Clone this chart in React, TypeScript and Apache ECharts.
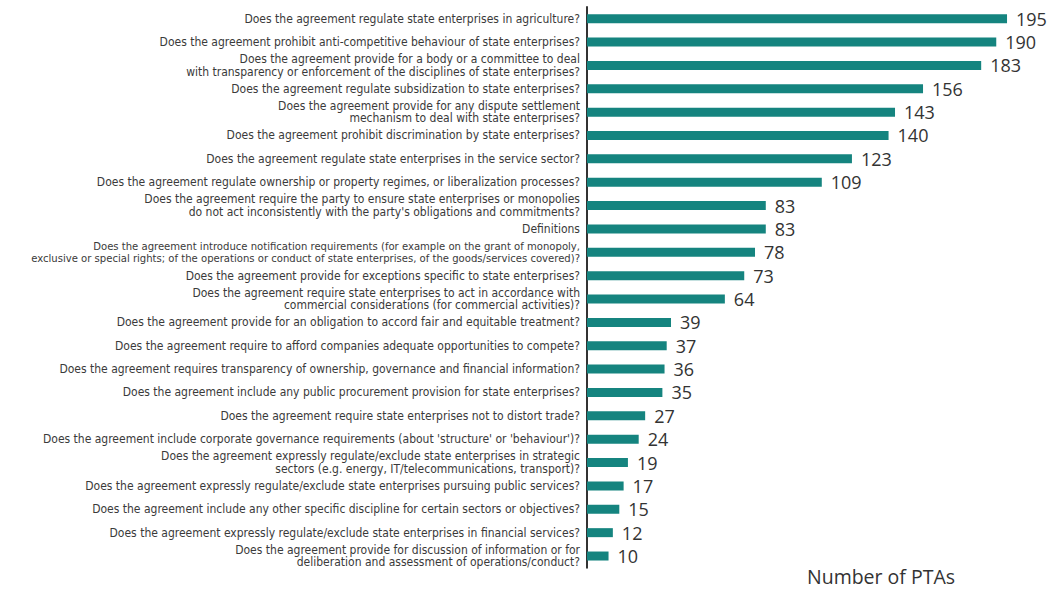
import React, { useEffect, useRef } from "react";
import * as echarts from "echarts";

const categories: string[] = [
  "Does the agreement regulate state enterprises in agriculture?",
  "Does the agreement prohibit anti-competitive behaviour of state enterprises?",
  "Does the agreement provide for a body or a committee to deal\nwith transparency or enforcement of the disciplines of state enterprises?",
  "Does the agreement regulate subsidization to state enterprises?",
  "Does the agreement provide for any dispute settlement\nmechanism to deal with state enterprises?",
  "Does the agreement prohibit discrimination by state enterprises?",
  "Does the agreement regulate state enterprises in the service sector?",
  "Does the agreement regulate ownership or property regimes, or liberalization processes?",
  "Does the agreement require the party to ensure state enterprises or monopolies\ndo not act inconsistently with the party's obligations and commitments?",
  "Definitions",
  "Does the agreement introduce notification requirements (for example on the grant of monopoly,\nexclusive or special rights; of the operations or conduct of state enterprises, of the goods/services covered)?",
  "Does the agreement provide for exceptions specific to state enterprises?",
  "Does the agreement require state enterprises to act in accordance with\ncommercial considerations (for commercial activities)?",
  "Does the agreement provide for an obligation to accord fair and equitable treatment?",
  "Does the agreement require to afford companies adequate opportunities to compete?",
  "Does the agreement requires transparency of ownership, governance and financial information?",
  "Does the agreement include any public procurement provision for state enterprises?",
  "Does the agreement require state enterprises not to distort trade?",
  "Does the agreement include corporate governance requirements (about 'structure' or 'behaviour')?",
  "Does the agreement expressly regulate/exclude state enterprises in strategic\nsectors (e.g. energy, IT/telecommunications, transport)?",
  "Does the agreement expressly regulate/exclude state enterprises pursuing public services?",
  "Does the agreement include any other specific discipline for certain sectors or objectives?",
  "Does the agreement expressly regulate/exclude state enterprises in financial services?",
  "Does the agreement provide for discussion of information or for\ndeliberation and assessment of operations/conduct?",
];

const values: number[] = [
  195, 190, 183, 156, 143, 140, 123, 109, 83, 83, 78, 73, 64, 39, 37, 36, 35, 27, 24, 19, 17, 15, 12, 10,
];

const axisTitle = "Number of PTAs";

export default function App() {
  const ref = useRef<HTMLDivElement>(null);
  useEffect(() => {
    if (!ref.current) return;
    const chart = echarts.init(ref.current, undefined, { renderer: "svg" });
    chart.setOption({
      animation: false,
      backgroundColor: "#ffffff",
      grid: {
        left: 587,
        right: 36.2,
        top: 7,
        bottom: 23.3,
        containLabel: false,
        outerBoundsMode: "none",
      },
      xAxis: {
        type: "value",
        min: 0,
        max: 200,
        show: false,
      },
      yAxis: {
        type: "category",
        data: categories,
        inverse: true,
        axisLine: { show: true, lineStyle: { color: "#333333", width: 2 } },
        axisTick: { show: false },
        axisLabel: {
          margin: 7,
          fontFamily: "DejaVu Sans Condensed",
          fontSize: 12,
          lineHeight: 12.5,
          color: "#3a3a3a",
          align: "right",
          formatter: (v: string) => {
            const lines = v.split("\n");
            const longest = Math.max(...lines.map((l) => l.length));
            if (longest > 100) {
              return lines.map((l) => `{s|${l}}`).join("\n");
            }
            return v;
          },
          rich: {
            s: {
              fontFamily: "DejaVu Sans Condensed",
              fontSize: 11.2,
              lineHeight: 12.5,
              color: "#3a3a3a",
            },
          },
        },
      },
      series: [
        {
          type: "bar",
          data: values,
          barWidth: 9,
          itemStyle: { color: "#15847f" },
          label: {
            show: true,
            position: "right",
            distance: 9,
            fontFamily: "Open Sans",
            fontSize: 18,
            color: "#333333",
          },
        },
      ],
      graphic: [
        {
          type: "text",
          left: 807,
          top: 566,
          style: {
            text: axisTitle,
            fontFamily: "Open Sans",
            fontSize: 19.5,
            fill: "#333333",
          },
        },
      ],
    });
    return () => chart.dispose();
  }, []);
  return (
    <div
      ref={ref}
      style={{ position: "fixed", left: 0, top: 0, width: 1054, height: 591 }}
    />
  );
}
